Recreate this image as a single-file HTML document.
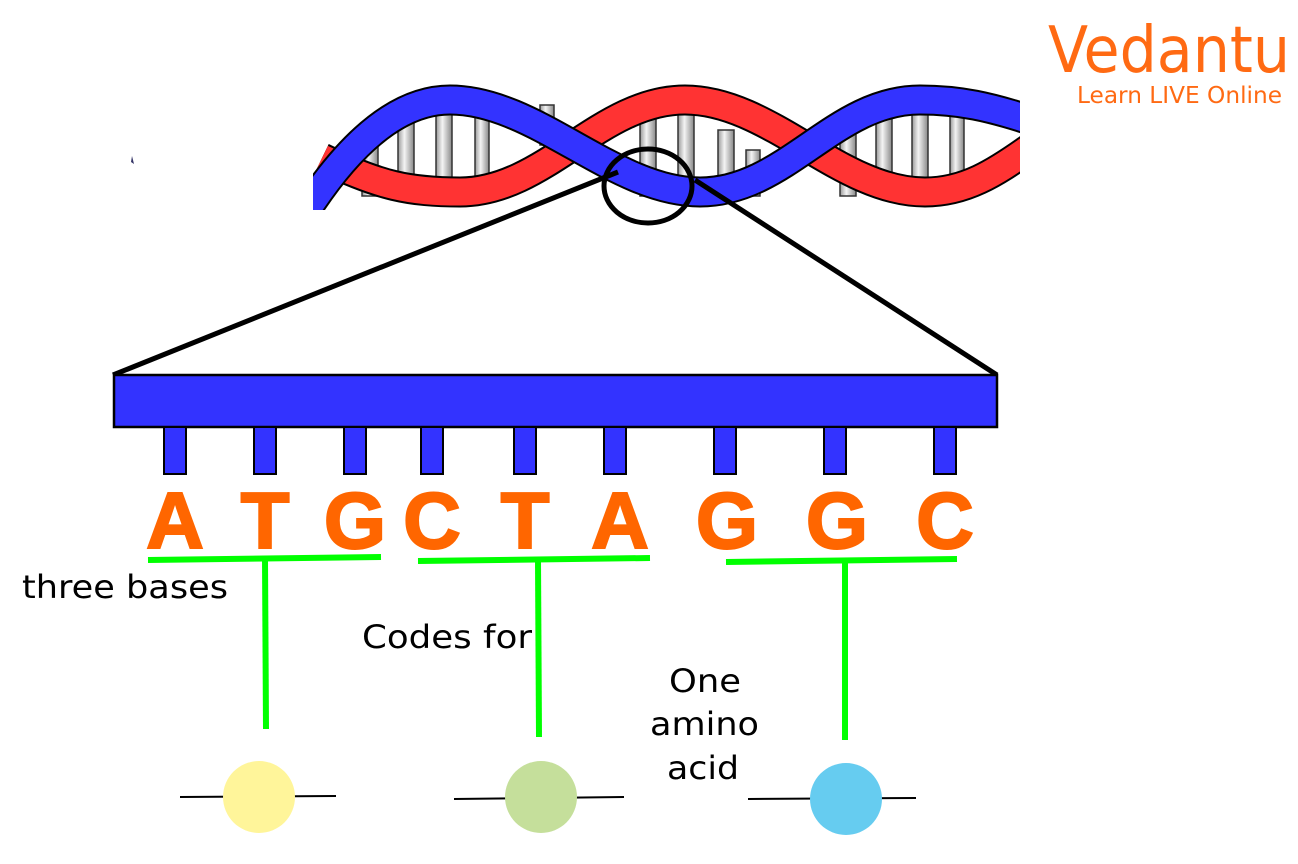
<!DOCTYPE html>
<html><head><style>
body{margin:0;background:#fff;}
svg{display:block;}
</style></head><body>
<svg width="1298" height="864" viewBox="0 0 1298 864" xmlns="http://www.w3.org/2000/svg" font-family="Liberation Sans, DejaVu Sans, sans-serif">
<defs>
<clipPath id="hc"><rect x="313" y="80" width="707" height="130"/></clipPath>
<linearGradient id="cy" x1="0" x2="1" y1="0" y2="0">
<stop offset="0" stop-color="#999"/><stop offset="0.4" stop-color="#f4f4f4"/><stop offset="1" stop-color="#888"/>
</linearGradient>
</defs>
<!-- helix -->
<g clip-path="url(#hc)">
<g fill="url(#cy)" stroke="#333" stroke-width="1.5">
<rect x="362" y="126" width="16" height="70"/><rect x="398" y="100" width="16" height="95"/><rect x="436" y="98" width="16" height="95"/>
<rect x="475" y="100" width="14" height="80"/><rect x="540" y="105" width="14" height="40"/>
<rect x="640" y="96" width="16" height="100"/><rect x="678" y="112" width="16" height="86"/><rect x="718" y="130" width="16" height="70"/><rect x="746" y="150" width="14" height="46"/>
<rect x="840" y="126" width="16" height="70"/><rect x="876" y="100" width="16" height="95"/><rect x="912" y="98" width="16" height="95"/><rect x="950" y="112" width="14" height="70"/>
</g>
<g fill="none">
<path d="M322,158 C380,186 410,192 460,192 C545,192 600,100 685,100 C770,100 840,192 925,192 C965,192 995,173 1030,148" stroke="#000" stroke-width="31"/>
<path d="M322,158 C380,186 410,192 460,192 C545,192 600,100 685,100 C770,100 840,192 925,192 C965,192 995,173 1030,148" stroke="#ff3333" stroke-width="27"/>
<path d="M300,220 C350,140 400,100 450,100 C536,100 614,192 700,192 C786,192 834,100 920,100 C960,100 990,107 1030,120" stroke="#000" stroke-width="31"/>
<path d="M300,220 C350,140 400,100 450,100 C536,100 614,192 700,192 C786,192 834,100 920,100 C960,100 990,107 1030,120" stroke="#3333ff" stroke-width="27"/>
</g>
</g>
<!-- zoom lines -->
<ellipse cx="648" cy="186" rx="44" ry="37" fill="none" stroke="#000" stroke-width="5"/>
<line x1="618" y1="172" x2="113" y2="375" stroke="#000" stroke-width="5"/>
<line x1="695" y1="180" x2="997" y2="375" stroke="#000" stroke-width="5"/>
<!-- bar -->
<rect x="114" y="375" width="883" height="52" fill="#3333ff" stroke="#000" stroke-width="2.5"/>
<g fill="#3333ff" stroke="#000" stroke-width="2">
<rect x="164" y="427" width="22" height="47"/><rect x="254" y="427" width="22" height="47"/><rect x="344" y="427" width="22" height="47"/>
<rect x="421" y="427" width="22" height="47"/><rect x="514" y="427" width="22" height="47"/><rect x="604" y="427" width="22" height="47"/>
<rect x="714" y="427" width="22" height="47"/><rect x="824" y="427" width="22" height="47"/><rect x="934" y="427" width="22" height="47"/>
</g>
<!-- letters -->
<g fill="#ff6600" font-weight="bold" font-size="80" text-anchor="middle" font-family="Liberation Sans, sans-serif" stroke="#ff6600" stroke-width="2">
<text x="175" y="548">A</text><text x="265" y="548">T</text><text x="355" y="548">G</text>
<text x="432" y="548">C</text><text x="525" y="548">T</text><text x="620" y="548">A</text>
<text x="727" y="548">G</text><text x="837" y="548">G</text><text x="945" y="548">C</text>
</g>
<!-- green -->
<g stroke="#00ff00" stroke-width="6" fill="none">
<path d="M148,560 L381,557"/><path d="M418,561 L650,558"/><path d="M726,562 L957,559"/>
<line x1="265" y1="560" x2="266" y2="729"/><line x1="538" y1="560" x2="539" y2="737"/><line x1="845" y1="561" x2="845" y2="740"/>
</g>
<!-- text labels -->
<g font-size="32" fill="#000" font-family="DejaVu Sans, sans-serif">
<text x="22" y="598" textLength="206" lengthAdjust="spacingAndGlyphs">three bases</text>
<text x="362" y="648" textLength="170" lengthAdjust="spacingAndGlyphs">Codes for</text>
<text x="669" y="692" textLength="72" lengthAdjust="spacingAndGlyphs">One</text>
<text x="650" y="735" textLength="109" lengthAdjust="spacingAndGlyphs">amino</text>
<text x="667" y="779" textLength="72" lengthAdjust="spacingAndGlyphs">acid</text>
</g>
<!-- amino acids -->
<g stroke="#000" stroke-width="2">
<line x1="180" y1="797" x2="336" y2="796"/><line x1="454" y1="799" x2="624" y2="797"/><line x1="748" y1="799" x2="916" y2="798"/>
</g>
<circle cx="259" cy="797" r="36" fill="#fff59a"/>
<circle cx="541" cy="797" r="36" fill="#c5df9b"/>
<circle cx="846" cy="799" r="36" fill="#66ccf0"/>
<!-- logo -->
<text x="1048" y="72" font-size="64" fill="#ff6a13" font-family="DejaVu Sans, sans-serif" textLength="242" lengthAdjust="spacingAndGlyphs">Vedantu</text>
<text x="1077" y="103" font-size="23" fill="#ff6a13" font-family="DejaVu Sans, sans-serif" textLength="205" lengthAdjust="spacingAndGlyphs">Learn LIVE Online</text>
<path d="M132,156 l2,8 l-3,-2z" fill="#336"/>
</svg>
</body></html>
